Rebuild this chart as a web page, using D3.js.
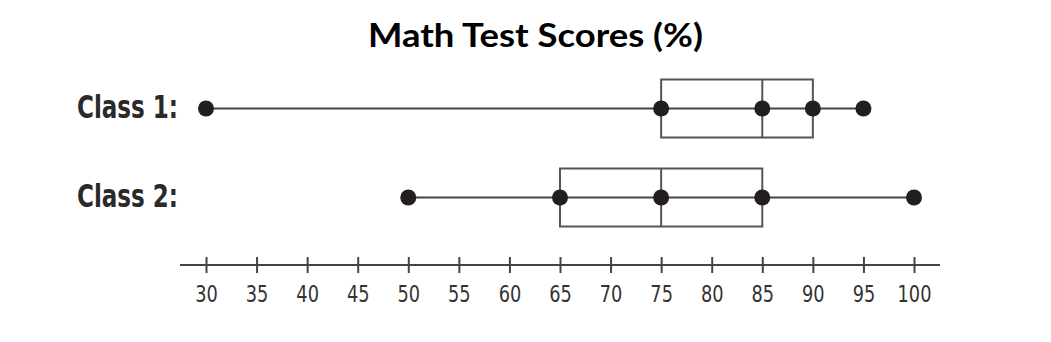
<!DOCTYPE html>
<html>
<head>
<meta charset="utf-8">
<script src="https://cdn.jsdelivr.net/npm/d3@7"></script>
<style>
  body { margin: 0; background: #fff; }
</style>
</head>
<body>
<div id="chart"></div>
<script>
// math test scores box plots

var classes = ["Class 1:", "Class 2:"];
var mins = [30, 50];
var q1s = [75, 65];
var medians = [85, 75];
var q3s = [90, 85];
var maxs = [95, 100];
var tickValues = [30, 35, 40, 45, 50, 55, 60, 65, 70, 75, 80, 85, 90, 95, 100];

var width = 1051, height = 342;

var svg = d3.select("#chart").append("svg")
  .attr("width", width)
  .attr("height", height);

// scales
var x = d3.scaleLinear()
  .domain([30, 100])
  .range([206, 914]);

var y = d3.scaleBand()
  .domain(classes)
  .range([64, 242])
  .padding(0);

var boxH = 58;

// title
svg.append("text")
  .attr("x", 368)
  .attr("y", 47)
  .attr("textLength", 335)
  .attr("lengthAdjust", "spacingAndGlyphs")
  .style("font-family", "Lato, 'DejaVu Sans', sans-serif")
  .style("font-weight", "bold")
  .style("font-size", "33px")
  .style("fill", "#000")
  .text("Math Test Scores (%)");

// axis line
svg.append("line")
  .attr("x1", 180).attr("x2", 940)
  .attr("y1", 265).attr("y2", 265)
  .style("stroke", "#444")
  .style("stroke-width", 2);

var axis = svg.append("g")
  .attr("transform", "translate(0,265)")
  .call(d3.axisBottom(x).tickValues(tickValues).tickSize(8).tickPadding(13));

axis.select(".domain").remove();
axis.selectAll(".tick line")
  .attr("y1", -8)
  .attr("y2", 8)
  .style("stroke", "#444")
  .style("stroke-width", 2);
axis.selectAll(".tick text")
  .style("font-family", "'DejaVu Sans Condensed', sans-serif")
  .style("font-size", "23px")
  .style("fill", "#333")
  .attr("textLength", function(d) { return String(d).length * 11.3; })
  .attr("lengthAdjust", "spacingAndGlyphs");

// rows
var rows = svg.selectAll(".row")
  .data(classes)
  .enter()
  .append("g")
  .attr("class", "row")
  .attr("transform", function(d) { return "translate(0," + (y(d) + y.bandwidth() / 2) + ")"; });

rows.append("text")
  .attr("x", 77)
  .attr("y", 9)
  .attr("textLength", 101)
  .attr("lengthAdjust", "spacingAndGlyphs")
  .style("font-family", "'DejaVu Sans Condensed', sans-serif")
  .style("font-weight", "bold")
  .style("font-size", "32px")
  .style("fill", "#2a2a2a")
  .text(function(d) { return d; });

// whisker line
rows.append("line")
  .attr("x1", function(d, i) { return x(mins[i]); })
  .attr("x2", function(d, i) { return x(maxs[i]); })
  .style("stroke", "#444")
  .style("stroke-width", 2);

// box
rows.append("rect")
  .attr("x", function(d, i) { return x(q1s[i]); })
  .attr("y", -boxH / 2)
  .attr("width", function(d, i) { return x(q3s[i]) - x(q1s[i]); })
  .attr("height", boxH)
  .style("fill", "none")
  .style("stroke", "#555")
  .style("stroke-width", 2);

// median
rows.append("line")
  .attr("x1", function(d, i) { return x(medians[i]); })
  .attr("x2", function(d, i) { return x(medians[i]); })
  .attr("y1", -boxH / 2)
  .attr("y2", boxH / 2)
  .style("stroke", "#555")
  .style("stroke-width", 2);

// dots
rows.selectAll(".dot")
  .data(function(d, i) { return [mins[i], q1s[i], medians[i], q3s[i], maxs[i]]; })
  .enter()
  .append("circle")
  .attr("class", "dot")
  .attr("cx", function(v) { return x(v); })
  .attr("cy", 0)
  .attr("r", 8)
  .style("fill", "#231f20");
</script>
</body>
</html>
